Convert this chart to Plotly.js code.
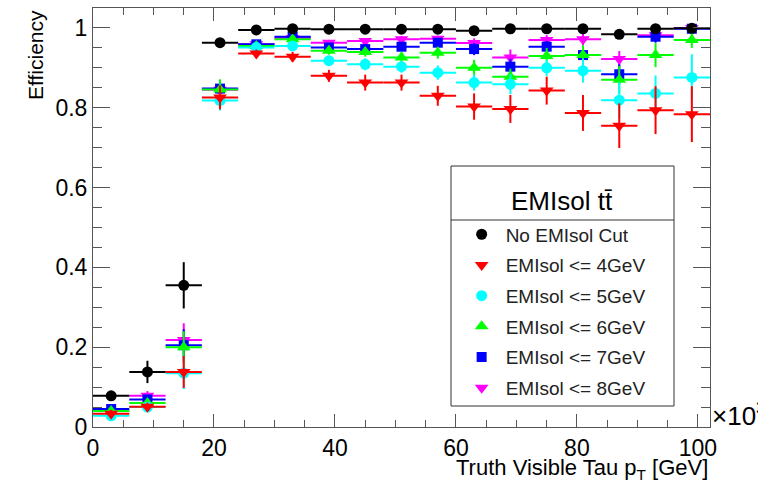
<!DOCTYPE html>
<html>
<head>
<meta charset="utf-8">
<script src="https://cdn.plot.ly/plotly-3.0.1.min.js"></script>
<style>html,body{margin:0;padding:0;background:#fff;}#chart{width:758px;height:483px;}</style>
</head>
<body>
<div id="chart"></div>
<script>
// Bin centres (truth visible tau pT, GeV) and half bin width
const binCenters = [3, 9, 15, 21, 27, 33, 39, 45, 51, 57, 63, 69, 75, 81, 87, 93, 99];
const binHalfWidth = 3;

const seriesNames = ["No EMIsol Cut", "EMIsol <= 4GeV", "EMIsol <= 5GeV", "EMIsol <= 6GeV", "EMIsol <= 7GeV", "EMIsol <= 8GeV"];

const effNoCut = [0.078, 0.138, 0.355, 0.963, 0.995, 0.998, 0.997, 0.997, 0.997, 0.997, 0.993, 0.998, 0.998, 0.998, 0.984, 0.998, 0.999];
const errNoCut = [0.010, 0.028, 0.058, 0.008, 0.004, 0.003, 0.003, 0.003, 0.003, 0.003, 0.005, 0.003, 0.003, 0.003, 0.008, 0.003, 0.002];

const eff4 = [0.033, 0.051, 0.138, 0.826, 0.936, 0.928, 0.880, 0.863, 0.863, 0.830, 0.803, 0.797, 0.843, 0.787, 0.755, 0.794, 0.784];
const err4 = [0.010, 0.010, 0.040, 0.030, 0.010, 0.012, 0.015, 0.020, 0.020, 0.025, 0.033, 0.035, 0.035, 0.045, 0.056, 0.060, 0.070];

const eff5 = [0.028, 0.050, 0.135, 0.818, 0.951, 0.955, 0.918, 0.909, 0.903, 0.888, 0.863, 0.859, 0.900, 0.893, 0.819, 0.836, 0.876];
const err5 = [0.010, 0.010, 0.040, 0.025, 0.010, 0.010, 0.012, 0.015, 0.015, 0.018, 0.020, 0.025, 0.020, 0.030, 0.045, 0.045, 0.058];

const eff6 = [0.040, 0.060, 0.200, 0.846, 0.955, 0.972, 0.943, 0.940, 0.926, 0.938, 0.900, 0.878, 0.930, 0.932, 0.870, 0.932, 0.970];
const err6 = [0.010, 0.010, 0.040, 0.025, 0.010, 0.008, 0.010, 0.012, 0.014, 0.015, 0.020, 0.020, 0.020, 0.025, 0.035, 0.030, 0.020];

const eff7 = [0.045, 0.069, 0.205, 0.848, 0.959, 0.978, 0.951, 0.947, 0.953, 0.963, 0.947, 0.903, 0.953, 0.932, 0.884, 0.978, 0.998];
const err7 = [0.010, 0.010, 0.040, 0.022, 0.008, 0.006, 0.008, 0.010, 0.010, 0.010, 0.015, 0.020, 0.015, 0.020, 0.025, 0.015, 0.003];

const eff8 = [0.040, 0.078, 0.218, 0.845, 0.959, 0.975, 0.963, 0.967, 0.972, 0.973, 0.962, 0.926, 0.970, 0.972, 0.922, 0.982, 1.000];
const err8 = [0.010, 0.012, 0.042, 0.022, 0.008, 0.006, 0.007, 0.008, 0.008, 0.008, 0.012, 0.020, 0.012, 0.015, 0.020, 0.010, 0.005];

const effs = [effNoCut, eff4, eff5, eff6, eff7, eff8];
const errs = [errNoCut, err4, err5, err6, err7, err8];
const colors = ["#000000", "#ff0000", "#00ffff", "#00ff00", "#0000ff", "#ff00ff"];
const symbols = ["circle", "triangle-down", "circle", "triangle-up", "square", "triangle-down"];
const sizes = [11, 12, 11, 12, 10, 12];

const traces = [];
// draw order: magenta at the bottom ... black on top; legend ranked by series index
for (let i = effs.length - 1; i >= 0; i--) {
  traces.push({
    type: "scatter",
    mode: "markers",
    name: seriesNames[i],
    legendgroup: "g" + i,
    legendrank: 100 + i,
    x: binCenters,
    y: effs[i],
    error_x: {type: "constant", value: binHalfWidth, width: 0, thickness: 2, color: colors[i]},
    error_y: {type: "data", array: errs[i], width: 0, thickness: 2, color: colors[i]},
    marker: {color: colors[i], symbol: symbols[i], size: sizes[i], line: {width: 0}},
    cliponaxis: true
  });
}

const font = "Liberation Sans, Arial, Helvetica, sans-serif";
const axisColor = "#555555";

const layout = {
  width: 758, height: 483,
  margin: {l: 93, r: 48, t: 8, b: 56, pad: 0},
  paper_bgcolor: "#ffffff", plot_bgcolor: "#ffffff",
  font: {family: font, color: "#000000"},
  showlegend: true,
  legend: {
    x: 0.591, y: 0.505, xanchor: "left", yanchor: "top",
    bgcolor: "rgba(0,0,0,0)", borderwidth: 0,
    font: {family: font, size: 19, color: "#222222"},
    traceorder: "grouped", tracegroupgap: 3, itemsizing: "trace", itemwidth: 38
  },
  xaxis: {
    range: [0, 102], dtick: 20, tick0: 0,
    showgrid: false, zeroline: false,
    showline: true, linecolor: axisColor, linewidth: 1, mirror: "ticks",
    ticks: "inside", ticklen: 13, tickcolor: axisColor, tickwidth: 1,
    minor: {dtick: 5, ticks: "inside", ticklen: 7, tickcolor: axisColor, tickwidth: 1, showgrid: false},
    tickfont: {family: font, size: 23, color: "#000000"}
  },
  yaxis: {
    range: [0, 1.05], dtick: 0.2, tick0: 0,
    showgrid: false, zeroline: false,
    showline: true, linecolor: axisColor, linewidth: 1, mirror: "ticks",
    ticks: "inside", ticklen: 17, tickcolor: axisColor, tickwidth: 1,
    minor: {dtick: 0.05, ticks: "inside", ticklen: 9, tickcolor: axisColor, tickwidth: 1, showgrid: false},
    tickfont: {family: font, size: 23, color: "#000000"}
  },
  shapes: [
    {type: "rect", xref: "paper", yref: "paper",
     x0: (451 - 93) / 617, x1: (674 - 93) / 617, y0: (427 - 406) / 419, y1: (427 - 166) / 419,
     line: {color: "#333333", width: 1}, fillcolor: "#ffffff", layer: "above"},
    {type: "line", xref: "paper", yref: "paper",
     x0: (451 - 93) / 617, x1: (674 - 93) / 617, y0: (427 - 220) / 419, y1: (427 - 220) / 419,
     line: {color: "#333333", width: 1}, layer: "above"}
  ],
  annotations: [
    {text: "EMIsol t\u0074\u0304", xref: "paper", yref: "paper",
     x: (562 - 93) / 617, y: (427 - 201) / 419, xanchor: "center", yanchor: "middle",
     showarrow: false, font: {family: font, size: 26, color: "#000000"}},
    {text: "Efficiency", xref: "paper", yref: "paper", x: 0, y: 1, xshift: -58,
     xanchor: "center", yanchor: "top", textangle: -90, showarrow: false,
     font: {family: font, size: 21, color: "#000000"}},
    {text: "Truth Visible Tau p<sub>T</sub> [GeV]", xref: "paper", yref: "paper", x: 1, y: 0,
     xanchor: "right", yanchor: "top", yshift: -26, showarrow: false,
     font: {family: font, size: 22, color: "#000000"}},
    {text: "\u00d710<sup>3</sup>", xref: "paper", yref: "paper", x: 1, y: 0,
     xanchor: "left", yanchor: "middle", xshift: 0, yshift: 13, showarrow: false,
     font: {family: font, size: 26, color: "#000000"}}
  ]
};

Plotly.newPlot("chart", traces, layout, {staticPlot: true, displayModeBar: false});
</script>
</body>
</html>
